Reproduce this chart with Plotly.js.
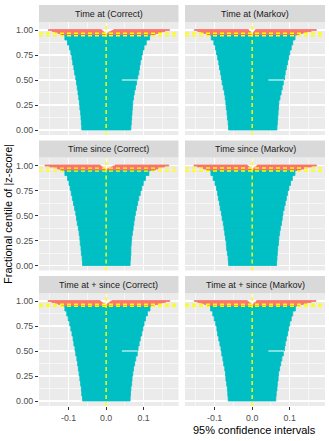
<!DOCTYPE html>
<html><head><meta charset="utf-8">
<script src="https://cdn.plot.ly/plotly-3.0.1.min.js"></script>
<style>html,body{margin:0;padding:0;background:#fff}#chart{width:329px;height:441px}</style>
</head><body><div id="chart"></div><script>
// ---- data ----
const panelNames = ["Time at (Correct)", "Time at (Markov)", "Time since (Correct)", "Time since (Markov)", "Time at + since (Correct)", "Time at + since (Markov)"];
const xTickVals = [-0.1, 0.0, 0.1];
const xTickLabels = ["-0.1", "0.0", "0.1"];
const yTickVals = [0, 0.25, 0.5, 0.75, 1.0];
const yTickLabels = ["0.00", "0.25", "0.50", "0.75", "1.00"];

// upper centile edge of each group of covering intervals
const tealTop = [0.05,0.10,0.15,0.20,0.25,0.30,0.35,0.40,0.45,0.50,0.55,0.60,0.65,0.70,0.75,0.80,0.85,0.90,0.95,0.955];
// centiles of non-covering intervals
const salmonCentile = [0.96,0.97,0.98,0.99,1.00];

const tealLo1 = [-0.065,-0.066,-0.067,-0.068,-0.070,-0.071,-0.073,-0.075,-0.077,-0.079,-0.081,-0.084,-0.086,-0.089,-0.091,-0.094,-0.098,-0.103,-0.110,-0.118];
const tealHi1 = [0.066,0.067,0.068,0.069,0.070,0.071,0.073,0.075,0.078,0.081,0.084,0.087,0.089,0.091,0.094,0.097,0.101,0.107,0.116,0.126];
const tealLo2 = [-0.063,-0.064,-0.066,-0.067,-0.069,-0.070,-0.072,-0.074,-0.077,-0.080,-0.082,-0.084,-0.087,-0.089,-0.092,-0.095,-0.098,-0.102,-0.109,-0.116];
const tealHi2 = [0.066,0.067,0.068,0.069,0.070,0.071,0.074,0.077,0.080,0.083,0.086,0.088,0.091,0.094,0.097,0.100,0.104,0.108,0.114,0.120];
const tealLo3 = [-0.063,-0.064,-0.066,-0.067,-0.069,-0.070,-0.072,-0.074,-0.077,-0.079,-0.081,-0.084,-0.087,-0.090,-0.093,-0.096,-0.099,-0.103,-0.110,-0.118];
const tealHi3 = [0.064,0.065,0.066,0.066,0.067,0.068,0.070,0.072,0.074,0.076,0.078,0.081,0.084,0.087,0.091,0.095,0.099,0.105,0.114,0.127];
const tealLo4 = [-0.063,-0.064,-0.066,-0.068,-0.069,-0.071,-0.073,-0.075,-0.077,-0.080,-0.082,-0.085,-0.087,-0.090,-0.092,-0.095,-0.099,-0.104,-0.110,-0.120];
const tealHi4 = [0.065,0.066,0.067,0.068,0.070,0.071,0.073,0.075,0.078,0.080,0.082,0.085,0.088,0.091,0.094,0.098,0.102,0.107,0.114,0.126];
const tealLo5 = [-0.063,-0.065,-0.066,-0.068,-0.070,-0.072,-0.074,-0.076,-0.078,-0.081,-0.083,-0.086,-0.088,-0.091,-0.094,-0.097,-0.101,-0.105,-0.110,-0.115];
const tealHi5 = [0.064,0.065,0.066,0.068,0.069,0.071,0.073,0.076,0.079,0.083,0.085,0.088,0.091,0.095,0.098,0.101,0.105,0.110,0.117,0.124];
const tealLo6 = [-0.064,-0.065,-0.066,-0.068,-0.070,-0.071,-0.073,-0.076,-0.078,-0.081,-0.083,-0.086,-0.089,-0.092,-0.094,-0.097,-0.101,-0.105,-0.111,-0.116];
const tealHi6 = [0.063,0.064,0.066,0.067,0.069,0.070,0.073,0.076,0.079,0.083,0.086,0.088,0.091,0.094,0.097,0.100,0.104,0.108,0.115,0.123];

const negLo1 = [-0.121,-0.128,-0.136,-0.144,-0.154], negHi1 = [-0.001,-0.004,-0.007,-0.010,-0.012];
const posLo1 = [0.002,0.006,0.010,0.015,0.020],     posHi1 = [0.131,0.139,0.148,0.157,0.169];
const negLo2 = [-0.120,-0.128,-0.136,-0.145,-0.154], negHi2 = [-0.001,-0.003,-0.005,-0.008,-0.010];
const posLo2 = [0.001,0.003,0.005,0.007,0.009],     posHi2 = [0.125,0.135,0.145,0.157,0.171];
const negLo3 = [-0.122,-0.130,-0.139,-0.150,-0.163], negHi3 = [-0.001,-0.005,-0.009,-0.013,-0.016];
const posLo3 = [0.002,0.007,0.013,0.018,0.024],     posHi3 = [0.131,0.139,0.148,0.156,0.167];
const negLo4 = [-0.122,-0.130,-0.138,-0.146,-0.155], negHi4 = [-0.001,-0.004,-0.007,-0.010,-0.013];
const posLo4 = [0.002,0.005,0.008,0.011,0.014],     posHi4 = [0.130,0.138,0.147,0.158,0.171];
const negLo5 = [-0.119,-0.127,-0.135,-0.145,-0.155], negHi5 = [-0.001,-0.005,-0.009,-0.013,-0.016];
const posLo5 = [0.001,0.004,0.008,0.011,0.015],     posHi5 = [0.128,0.138,0.148,0.158,0.170];
const negLo6 = [-0.119,-0.127,-0.136,-0.145,-0.154], negHi6 = [-0.001,-0.004,-0.007,-0.010,-0.013];
const posLo6 = [0.001,0.004,0.007,0.010,0.012],     posHi6 = [0.127,0.136,0.146,0.157,0.170];

// coverage Monte Carlo interval (dashed lines)
const covLo = [0.943,0.943,0.944,0.945,0.947,0.947];
const covHi = [0.967,0.968,0.974,0.975,0.967,0.967];
// missing row near the median
const gapCentile = [0.5,0.5,null,null,0.5,0.5];
const gapFrom = [0.042,0.043,null,null,0.042,0.043];
const gapTo = [0.086,0.085,null,null,0.084,0.085];

// ---- build ----
const tealLo = [tealLo1,tealLo2,tealLo3,tealLo4,tealLo5,tealLo6];
const tealHi = [tealHi1,tealHi2,tealHi3,tealHi4,tealHi5,tealHi6];
const negLo = [negLo1,negLo2,negLo3,negLo4,negLo5,negLo6];
const negHi = [negHi1,negHi2,negHi3,negHi4,negHi5,negHi6];
const posLo = [posLo1,posLo2,posLo3,posLo4,posLo5,posLo6];
const posHi = [posHi1,posHi2,posHi3,posHi4,posHi5,posHi6];

const W = 329, H = 441;
const colPx = [[39,178.5],[185,325]];
const rowPx = [[22,135],[157.5,270.5],[293,406]];
const stripH = 17;
const TEAL = '#00BFC4', SALMON = '#F8766D';

const tealCenter = [], tealWidth = [];
let prev = 0;
tealTop.forEach(t => { tealCenter.push((prev + t) / 2); tealWidth.push(t - prev); prev = t; });
const salW = 0.01;

const traces = [];
const shapes = [];
const annotations = [];
const layout = {
  width: W, height: H, margin: {l:0,r:0,t:0,b:0},
  paper_bgcolor: '#FFFFFF', plot_bgcolor: '#EBEBEB',
  showlegend: false, barmode: 'overlay',
  font: {family: 'Liberation Sans, Arial, sans-serif', color: '#4D4D4D'}
};

for (let i = 0; i < 6; i++) {
  const r = Math.floor(i / 2), c = i % 2;
  const id = i === 0 ? '' : String(i + 1);
  const xa = 'x' + id, ya = 'y' + id;
  const xd = [colPx[c][0] / W, colPx[c][1] / W];
  const yd = [1 - rowPx[r][1] / H, 1 - rowPx[r][0] / H];
  const bottom = r === 2, left = c === 0;
  layout['xaxis' + id] = {
    domain: xd, anchor: ya, range: [-0.179, 0.193 + (c ? 0.001 : 0)],
    tickmode: 'array', tickvals: xTickVals, ticktext: xTickLabels,
    showticklabels: bottom, ticks: bottom ? 'outside' : '', ticklen: 3, tickwidth: 1, tickcolor: '#333333',
    tickfont: {size: 8.8, color: '#4D4D4D'},
    showgrid: true, gridcolor: '#FFFFFF', gridwidth: 1.07, zeroline: false, showline: false,
    minor: {tickmode: 'linear', tick0: -0.15, dtick: 0.1, showgrid: true, gridcolor: '#FFFFFF', gridwidth: 0.53, ticks: ''}
  };
  layout['yaxis' + id] = {
    domain: yd, anchor: xa, range: [-0.05, 1.08],
    tickmode: 'array', tickvals: yTickVals, ticktext: yTickLabels,
    showticklabels: left, ticks: left ? 'outside' : '', ticklen: 3, tickwidth: 1, tickcolor: '#333333',
    tickfont: {size: 8.8, color: '#4D4D4D'},
    showgrid: true, gridcolor: '#FFFFFF', gridwidth: 1.07, zeroline: false, showline: false,
    minor: {tickmode: 'linear', tick0: 0.125, dtick: 0.25, showgrid: true, gridcolor: '#FFFFFF', gridwidth: 0.53, ticks: ''}
  };
  traces.push({
    type: 'bar', orientation: 'h', xaxis: xa, yaxis: ya,
    y: tealCenter, base: tealLo[i], x: tealHi[i].map((h, k) => h - tealLo[i][k]), width: tealWidth,
    marker: {color: TEAL, line: {width: 0.8, color: TEAL}}, hoverinfo: 'skip'
  });
  traces.push({
    type: 'bar', orientation: 'h', xaxis: xa, yaxis: ya,
    y: salmonCentile, base: negLo[i], x: negHi[i].map((h, k) => h - negLo[i][k]), width: salW,
    marker: {color: SALMON, line: {width: 0.8, color: SALMON}}, hoverinfo: 'skip'
  });
  traces.push({
    type: 'bar', orientation: 'h', xaxis: xa, yaxis: ya,
    y: salmonCentile, base: posLo[i], x: posHi[i].map((h, k) => h - posLo[i][k]), width: salW,
    marker: {color: SALMON, line: {width: 0.8, color: SALMON}}, hoverinfo: 'skip'
  });
  if (gapFrom[i] !== null) {
    traces.push({
      type: 'scatter', mode: 'lines', xaxis: xa, yaxis: ya,
      x: [gapFrom[i], gapTo[i]], y: [gapCentile[i], gapCentile[i]],
      line: {color: '#FFFFFF', width: 1}, hoverinfo: 'skip'
    });
  }
  const dash = {color: '#FFFF00', width: 1.4, dash: '4px,3px'};
  shapes.push({type: 'line', xref: xa, yref: ya + ' domain', x0: 0, x1: 0, y0: 0, y1: 1, line: dash});
  shapes.push({type: 'line', xref: xa + ' domain', yref: ya, x0: 0, x1: 1, y0: covLo[i], y1: covLo[i], line: dash});
  shapes.push({type: 'line', xref: xa + ' domain', yref: ya, x0: 0, x1: 1, y0: covHi[i], y1: covHi[i], line: dash});
  // strip
  const sTop = rowPx[r][0] - stripH;
  shapes.push({type: 'rect', xref: 'paper', yref: 'paper', layer: 'below',
    x0: xd[0], x1: xd[1], y0: 1 - rowPx[r][0] / H, y1: 1 - sTop / H,
    fillcolor: '#D9D9D9', line: {width: 0}});
  annotations.push({xref: 'paper', yref: 'paper', x: (xd[0] + xd[1]) / 2, y: 1 - (sTop + stripH / 2) / H,
    text: panelNames[i], showarrow: false, xanchor: 'center', yanchor: 'middle',
    font: {size: 9, color: '#1A1A1A'}});
}
annotations.push({xref: 'paper', yref: 'paper', x: 254.5 / W, y: 1 - 430 / H,
  text: '95% confidence intervals', showarrow: false, xanchor: 'center', yanchor: 'middle',
  font: {size: 11, color: '#000000'}});
annotations.push({xref: 'paper', yref: 'paper', x: 8 / W, y: 1 - 214 / H,
  text: 'Fractional centile of |z-score|', showarrow: false, textangle: -90, xanchor: 'center', yanchor: 'middle',
  font: {size: 11, color: '#000000'}});
layout.shapes = shapes;
layout.annotations = annotations;

Plotly.newPlot('chart', traces, layout, {staticPlot: true, displayModeBar: false});
</script></body></html>
